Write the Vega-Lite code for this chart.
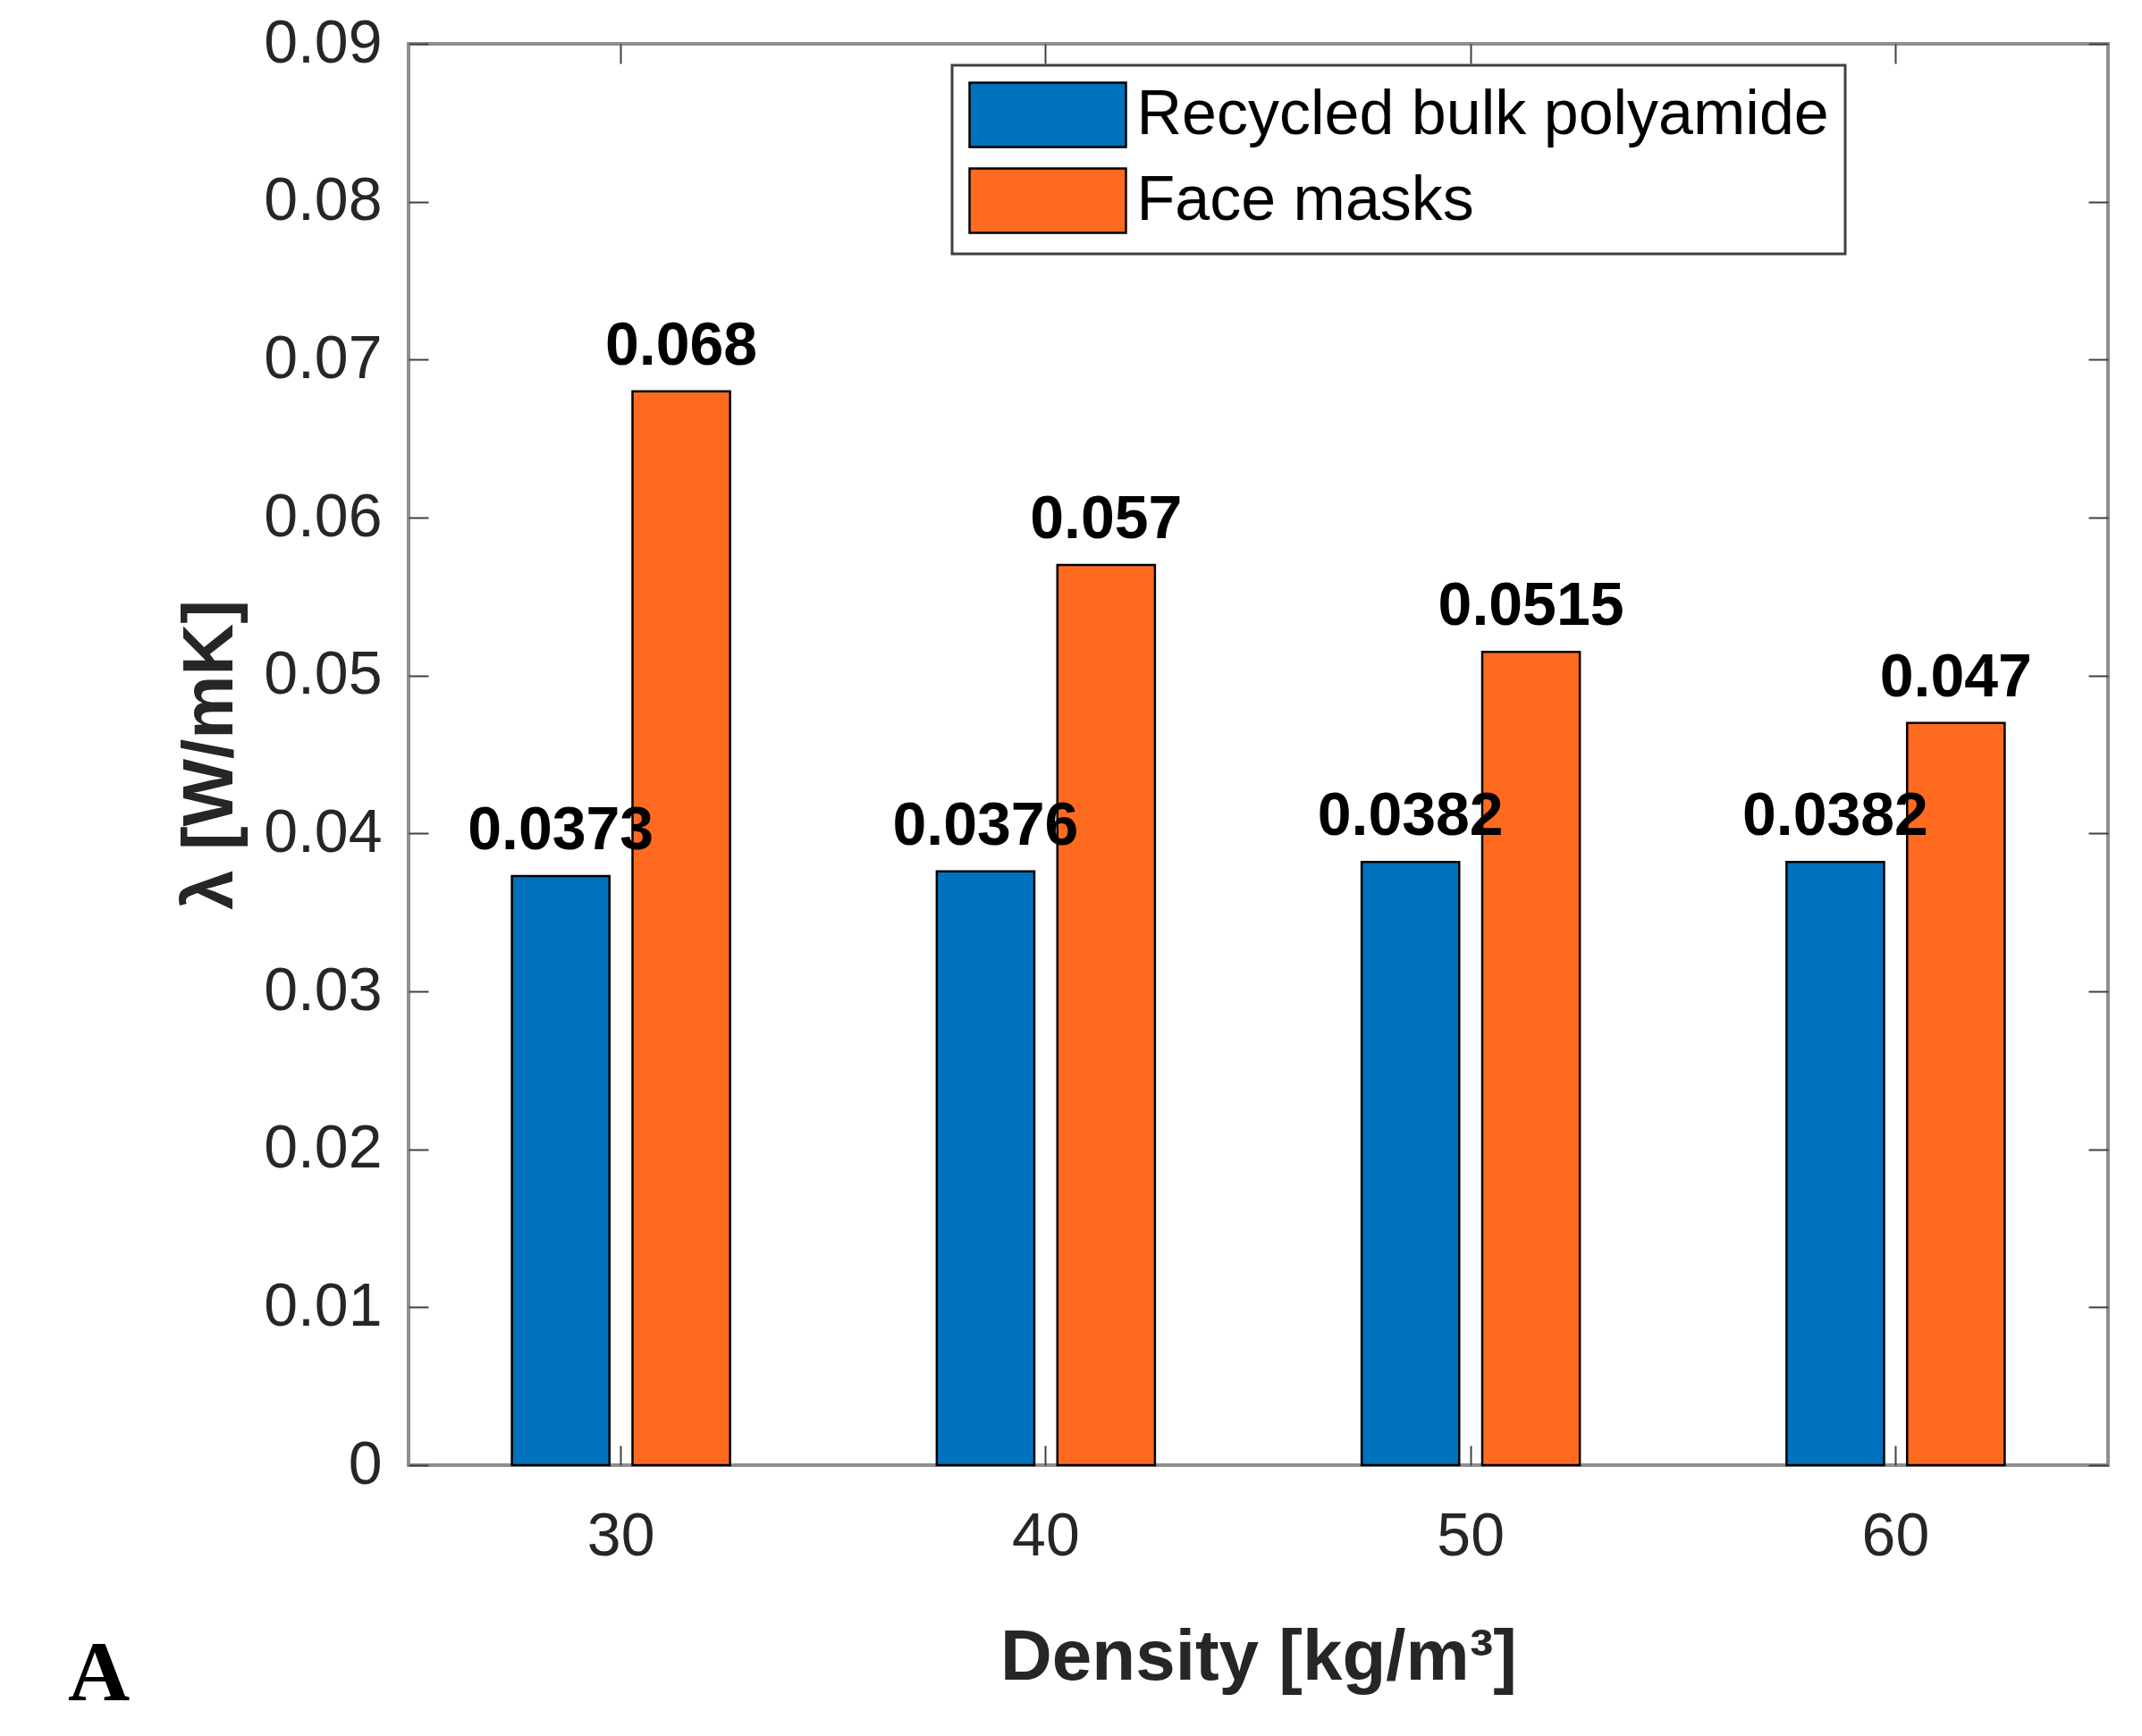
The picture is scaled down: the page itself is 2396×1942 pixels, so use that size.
{
  "$schema": "https://vega.github.io/schema/vega-lite/v6.json",
  "width": 1901,
  "height": 1590,
  "autosize": "none",
  "padding": {"left": 457, "top": 49, "right": 38, "bottom": 303},
  "background": "white",
  "config": {
    "view": {"stroke": "#8f8f8f", "strokeWidth": 4},
    "font": "Liberation Sans",
    "axis": {"grid": false, "domain": false}
  },
  "title": {
    "text": "A",
    "orient": "bottom",
    "anchor": "start",
    "frame": "group",
    "font": "Liberation Serif",
    "fontSize": 96,
    "fontWeight": "bold",
    "color": "#000000",
    "dx": -381,
    "offset": 8,
    "baseline": "alphabetic"
  },
  "data": {
    "values": [
      {"density": "30", "series": "Recycled bulk polyamide", "value": 0.0373},
      {"density": "30", "series": "Face masks", "value": 0.068},
      {"density": "40", "series": "Recycled bulk polyamide", "value": 0.0376},
      {"density": "40", "series": "Face masks", "value": 0.057},
      {"density": "50", "series": "Recycled bulk polyamide", "value": 0.0382},
      {"density": "50", "series": "Face masks", "value": 0.0515},
      {"density": "60", "series": "Recycled bulk polyamide", "value": 0.0382},
      {"density": "60", "series": "Face masks", "value": 0.047}
    ]
  },
  "layer": [
    {
      "mark": {"type": "bar", "stroke": "#000000", "strokeWidth": 2.5, "opacity": 1},
      "encoding": {
        "x": {
          "field": "density",
          "type": "nominal",
          "sort": ["30", "40", "50", "60"],
          "scale": {"paddingInner": 0, "paddingOuter": -0.016},
          "axis": {
            "orient": "bottom",
            "title": "Density [kg/m³]",
            "titleFontSize": 80,
            "titleFontWeight": "bold",
            "titleColor": "#262626",
            "titleBaseline": "alphabetic",
            "titleY": 239,
            "labelAngle": 0,
            "labelFontSize": 68,
            "labelColor": "#262626",
            "labelPadding": 68,
            "labelBaseline": "top",
            "tickSize": -22,
            "tickWidth": 2,
            "tickColor": "#404040",
            "bandPosition": 0.5
          }
        },
        "xOffset": {
          "field": "series",
          "type": "nominal",
          "scale": {"domain": ["Recycled bulk polyamide", "Face masks"], "paddingInner": 0.191, "paddingOuter": 0.857}
        },
        "y": {
          "field": "value",
          "type": "quantitative",
          "scale": {"domain": [0, 0.09], "nice": false, "zero": true},
          "axis": {
            "orient": "left",
            "values": [0, 0.01, 0.02, 0.03, 0.04, 0.05, 0.06, 0.07, 0.08, 0.09],
            "format": ".2~f",
            "title": "λ [W/mK]",
            "titleFontSize": 80,
            "titleFontWeight": "bold",
            "titleColor": "#262626",
            "titleBaseline": "alphabetic",
            "titleX": -198,
            "labelFontSize": 68,
            "labelColor": "#262626",
            "labelPadding": 52,
            "tickSize": -22,
            "tickWidth": 2,
            "tickColor": "#404040"
          }
        },
        "color": {
          "field": "series",
          "type": "nominal",
          "scale": {"domain": ["Recycled bulk polyamide", "Face masks"], "range": ["#0072BD", "#FF6A21"]},
          "legend": {
            "orient": "none",
            "legendX": 608,
            "legendY": 24,
            "title": null,
            "direction": "vertical",
            "symbolType": "M-2.43,-1H2.43V1H-2.43Z",
            "symbolSize": 5184,
            "symbolOffset": 51.5,
            "symbolStrokeColor": "#000000",
            "symbolStrokeWidth": 2.5,
            "symbolOpacity": 1,
            "labelFontSize": 70,
            "labelColor": "#000000",
            "labelLimit": 2000,
            "labelOffset": 62,
            "rowPadding": 13,
            "padding": 18,
            "fillColor": "#ffffff",
            "strokeColor": "#404040",
            "encode": {"legend": {"update": {"strokeWidth": {"value": 3}}}}
          }
        }
      }
    },
    {
      "mark": {"type": "text", "fontSize": 68, "fontWeight": "bold", "color": "#000000", "baseline": "alphabetic", "align": "center", "dy": -30},
      "encoding": {
        "x": {
          "field": "density",
          "type": "nominal",
          "sort": ["30", "40", "50", "60"],
          "axis": {
            "orient": "top",
            "title": null,
            "labels": false,
            "tickSize": -22,
            "tickWidth": 2,
            "tickColor": "#404040",
            "bandPosition": 0.5
          }
        },
        "xOffset": {"field": "series", "type": "nominal"},
        "y": {
          "field": "value",
          "type": "quantitative",
          "axis": {
            "orient": "right",
            "title": null,
            "labels": false,
            "values": [0, 0.01, 0.02, 0.03, 0.04, 0.05, 0.06, 0.07, 0.08, 0.09],
            "tickSize": -22,
            "tickWidth": 2,
            "tickColor": "#404040"
          }
        },
        "text": {"field": "value", "type": "quantitative", "format": ".4~f"}
      }
    }
  ],
  "resolve": {"axis": {"x": "independent", "y": "independent"}}
}
